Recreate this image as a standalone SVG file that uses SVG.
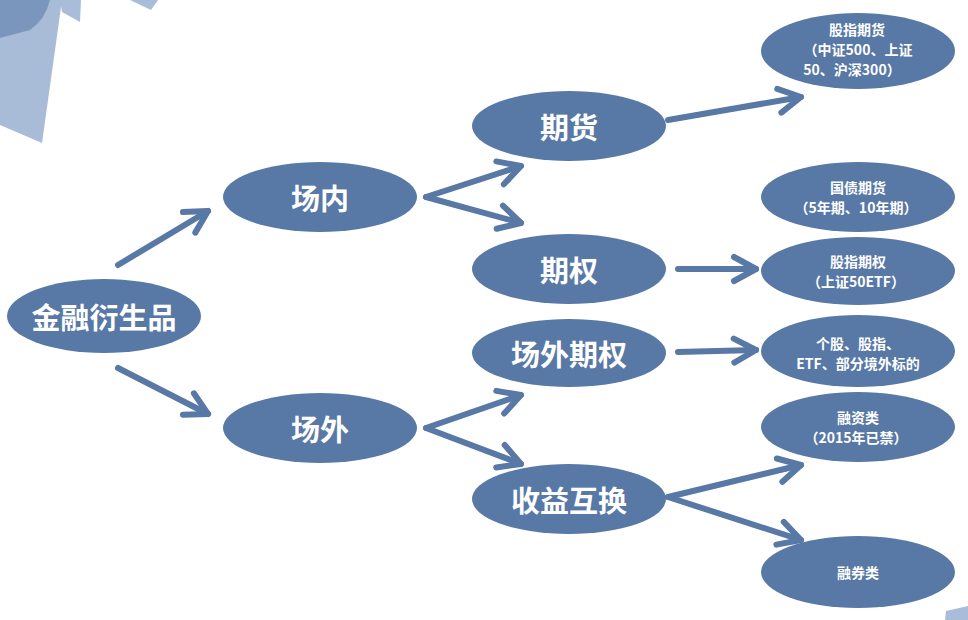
<svg xmlns="http://www.w3.org/2000/svg" width="968" height="620" viewBox="0 0 968 620">
<defs>
<style>
.n{fill:#5878a6}
.t{fill:#ffffff;font-family:"Noto Sans CJK SC","Liberation Sans",sans-serif;text-anchor:middle;dominant-baseline:central}
.big{font-size:29px;font-weight:bold}
.sm{font-size:14px;font-weight:bold}
.c{fill:none;stroke:#5878a6;stroke-width:6;stroke-linecap:round;stroke-linejoin:round}
</style>
<marker id="ah" markerUnits="userSpaceOnUse" markerWidth="40" markerHeight="40" viewBox="-30 -20 40 40" refX="0" refY="0" orient="auto" overflow="visible">
<path d="M-22,-12 L0,0 L-22,12" fill="none" stroke="#5878a6" stroke-width="6" stroke-linecap="round" stroke-linejoin="round"/>
</marker>
</defs>
<rect width="968" height="620" fill="#ffffff"/>
<g id="decor">
<polygon points="0,0 62,0 42,143 0,125" fill="#9fb4d3" opacity="0.9"/>
<path d="M0,0 L50,0 Q45,20 30,30 L0,38 Z" fill="#6f8db5" opacity="0.8"/>
<polygon points="60,0 81,0 80,22 62,12" fill="#a9bddb"/>
<polygon points="130,0 158,0 151,10" fill="#a9bddb"/>
<polygon points="946,611 968,606 968,620 945,620" fill="#a9bddb"/>
</g>
<g id="connectors">
<line class="c" x1="118" y1="265" x2="208" y2="211" marker-end="url(#ah)"/>
<line class="c" x1="118" y1="368" x2="208" y2="414" marker-end="url(#ah)"/>
<line class="c" x1="426" y1="197" x2="521" y2="166" marker-end="url(#ah)"/>
<line class="c" x1="426" y1="197" x2="521" y2="223" marker-end="url(#ah)"/>
<line class="c" x1="426" y1="428" x2="521" y2="395" marker-end="url(#ah)"/>
<line class="c" x1="426" y1="428" x2="521" y2="464" marker-end="url(#ah)"/>
<line class="c" x1="668" y1="120" x2="801" y2="97" marker-end="url(#ah)"/>
<line class="c" x1="678" y1="269" x2="756" y2="269" marker-end="url(#ah)"/>
<line class="c" x1="678" y1="352" x2="756" y2="350" marker-end="url(#ah)"/>
<line class="c" x1="668" y1="497" x2="801" y2="465" marker-end="url(#ah)"/>
<line class="c" x1="668" y1="497" x2="801" y2="540" marker-end="url(#ah)"/>
</g>
<g id="root"><ellipse class="n" cx="104" cy="316" rx="97" ry="37"/><text class="t big" x="104" y="316">金融衍生品</text></g>
<g id="changnei"><ellipse class="n" cx="320" cy="197" rx="97" ry="35"/><text class="t big" x="320" y="197">场内</text></g>
<g id="changwai"><ellipse class="n" cx="320" cy="428" rx="97" ry="35"/><text class="t big" x="320" y="428">场外</text></g>
<g id="qihuo"><ellipse class="n" cx="569" cy="126" rx="97" ry="35"/><text class="t big" x="569" y="126">期货</text></g>
<g id="qiquan"><ellipse class="n" cx="569" cy="269" rx="97" ry="35"/><text class="t big" x="569" y="269">期权</text></g>
<g id="cwqiquan"><ellipse class="n" cx="569" cy="353" rx="97" ry="34"/><text class="t big" x="569" y="353">场外期权</text></g>
<g id="shouyi"><ellipse class="n" cx="569" cy="499" rx="97" ry="35"/><text class="t big" x="569" y="499">收益互换</text></g>
<g id="guzhiqihuo"><ellipse class="n" cx="858" cy="51" rx="97" ry="38"/>
<text class="t sm" x="857" y="29">股指期货</text>
<text class="t sm" x="858" y="49">（中证500、上证</text>
<text class="t sm" x="852" y="69">50、沪深300）</text></g>
<g id="guozhai"><ellipse class="n" cx="858" cy="197" rx="97" ry="35"/>
<text class="t sm" x="858" y="187">国债期货</text>
<text class="t sm" x="856" y="207">（5年期、10年期）</text></g>
<g id="guzhiqiquan"><ellipse class="n" cx="858" cy="271" rx="97" ry="34"/>
<text class="t sm" x="858" y="261">股指期权</text>
<text class="t sm" x="856" y="281">（上证50ETF）</text></g>
<g id="gegu"><ellipse class="n" cx="858" cy="351" rx="97" ry="36"/>
<text class="t sm" x="858" y="343">个股、股指、</text>
<text class="t sm" x="858" y="363">ETF、部分境外标的</text></g>
<g id="rongzi"><ellipse class="n" cx="858" cy="427" rx="97" ry="35"/>
<text class="t sm" x="858" y="417">融资类</text>
<text class="t sm" x="856" y="437">（2015年已禁）</text></g>
<g id="rongquan"><ellipse class="n" cx="858" cy="572" rx="97" ry="36"/>
<text class="t sm" x="858" y="572">融券类</text></g>
</svg>
